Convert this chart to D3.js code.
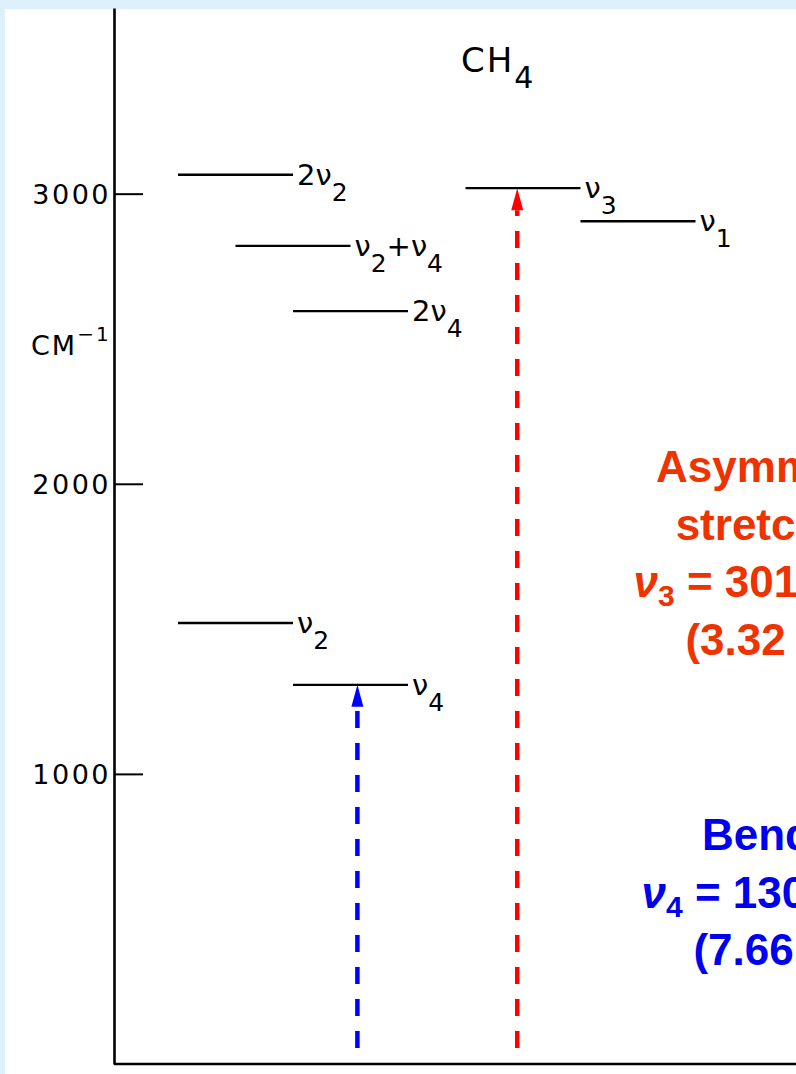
<!DOCTYPE html>
<html>
<head>
<meta charset="utf-8">
<script src="https://cdn.jsdelivr.net/npm/d3@7"></script>
<style>
  html, body { margin: 0; padding: 0; background: #def0fc; }
  svg { display: block; }
</style>
</head>
<body>
<div id="chart"></div>
<script>
// CH4 vibrational levels (cm-1), "_n" marks a subscript
var LEVELS      = ["2ν_2", "ν_2+ν_4", "2ν_4", "ν_3", "ν_1", "ν_2", "ν_4"];
var WAVENUMBERS = [3065, 2820, 2595, 3019, 2905, 1520, 1307];
var SLOTS       = [0, 1, 2, 5, 7, 0, 2];   // column slot of each level

var Y_TICKS = [1000, 2000, 3000];

// excitation arrows
var ARROW_TARGETS = ["ν_4", "ν_3"];
var ARROW_SLOTS   = [3.12, 5.9];
var ARROW_FROM    = [55, 55];
var ARROW_COLORS  = ["#0000ff", "#ff0000"];

// annotations
var RED_LINES  = ["Asymmetric", "stretching", "ν_3 = 3019 cm^-1", "(3.32 μm)"];
var BLUE_LINES = ["Bending", "ν_4 = 1306 cm^-1", "(7.66 μm)"];

var W = 796, H = 1074;

var svg = d3.select("#chart").append("svg")
    .attr("width", W)
    .attr("height", H);

svg.append("rect").attr("width", W).attr("height", H).attr("fill", "#def0fc");
svg.append("rect").attr("x", 5).attr("y", 9).attr("width", W - 5).attr("height", H - 9).attr("fill", "#ffffff");

var y = d3.scaleLinear().domain([0, 3640]).range([1064, 8]);
var x = d3.scaleLinear().domain([0, 10]).range([178, 753]);

var axisFont = "'DejaVu Sans', sans-serif";

// left axis, ticks pointing inwards
var yAxis = svg.append("g")
    .attr("transform", "translate(114,0)")
    .call(d3.axisLeft(y).tickValues(Y_TICKS).tickFormat(d3.format("d"))
      .tickSize(-29).tickSizeOuter(0).tickPadding(3));
yAxis.select(".domain").attr("stroke", "#000").attr("stroke-width", 2.6);
yAxis.selectAll(".tick line").attr("stroke", "#000").attr("stroke-width", 2);
yAxis.selectAll(".tick text")
    .attr("font-family", axisFont)
    .attr("font-size", 27)
    .attr("letter-spacing", 2.5)
    .attr("fill", "#000")
    .attr("dy", "0.36em");

// bottom baseline
svg.append("line")
    .attr("x1", 114).attr("x2", W)
    .attr("y1", y(0)).attr("y2", y(0))
    .attr("stroke", "#000").attr("stroke-width", 2.6);

// unit label
var unit = svg.append("text")
    .attr("x", 31).attr("y", 355)
    .attr("font-family", axisFont)
    .attr("font-size", 27)
    .attr("letter-spacing", 2);
unit.append("tspan").text("CM");
unit.append("tspan").attr("font-size", 20).attr("dy", -14).text("−1");

// molecule title
var title = svg.append("text")
    .attr("x", 461).attr("y", 72)
    .attr("font-family", axisFont)
    .attr("font-size", 34)
    .attr("letter-spacing", 2);
title.append("tspan").text("CH");
title.append("tspan").attr("font-size", 30).attr("dy", 16).text("4");

// helper: write "a_2b" style label into a text element
function writeParts(textSel, label, subSize, shift) {
  var parts = label.split(/_(\d)/);
  var down = false;
  parts.forEach(function(p, i) {
    if (p === "") return;
    var isSub = i % 2 === 1;
    var t = textSel.append("tspan").text(p);
    if (isSub && !down) { t.attr("dy", shift); down = true; }
    else if (!isSub && down) { t.attr("dy", -shift); down = false; }
    if (isSub) t.attr("font-size", subSize);
  });
}

var levels = LEVELS.map(function(name, i) {
  return { name: name, value: WAVENUMBERS[i], slot: SLOTS[i] };
});

// level lines
svg.selectAll(".level")
  .data(levels)
  .enter()
  .append("line")
    .attr("class", "level")
    .attr("x1", function(d) { return x(d.slot); })
    .attr("x2", function(d) { return x(d.slot + 2); })
    .attr("y1", function(d) { return y(d.value); })
    .attr("y2", function(d) { return y(d.value); })
    .attr("stroke", "#000")
    .attr("stroke-width", 2.4);

// level labels
svg.selectAll(".level-label")
  .data(levels)
  .enter()
  .append("text")
    .attr("class", "level-label")
    .attr("x", function(d) { return x(d.slot + 2) + 4; })
    .attr("y", function(d) { return y(d.value) + 10; })
    .attr("font-family", axisFont)
    .attr("font-size", 29)
    .each(function(d) { writeParts(d3.select(this), d.name, 25, 16); });

// dashed arrows
var arrows = ARROW_TARGETS.map(function(t, i) {
  return { to: WAVENUMBERS[LEVELS.indexOf(t)], from: ARROW_FROM[i], slot: ARROW_SLOTS[i], color: ARROW_COLORS[i] };
});
var headLen = 22, headW = 6;
svg.selectAll(".arrow")
  .data(arrows)
  .enter()
  .append("line")
    .attr("class", "arrow")
    .attr("x1", function(d) { return x(d.slot); })
    .attr("x2", function(d) { return x(d.slot); })
    .attr("y1", function(d) { return y(d.from); })
    .attr("y2", function(d) { return y(d.to) + headLen; })
    .attr("stroke", function(d) { return d.color; })
    .attr("stroke-width", 4.5)
    .attr("stroke-dasharray", "17,15");
svg.selectAll(".arrow-head")
  .data(arrows)
  .enter()
  .append("path")
    .attr("class", "arrow-head")
    .attr("d", function(d) {
      var cx = x(d.slot), ty = y(d.to);
      return "M" + cx + "," + ty + "L" + (cx + headW) + "," + (ty + headLen) + "L" + (cx - headW) + "," + (ty + headLen) + "Z";
    })
    .attr("fill", function(d) { return d.color; });

// annotation blocks
function writeBlock(lines, cx, y0, color) {
  var g = svg.append("g");
  lines.forEach(function(line, i) {
    var t = g.append("text")
      .attr("x", cx)
      .attr("y", y0 + i * 57.5)
      .attr("text-anchor", "middle")
      .attr("font-family", "'Liberation Sans', Arial, sans-serif")
      .attr("font-weight", "bold")
      .attr("font-size", 44)
      .attr("fill", color);
    var m = line.match(/^ν_(\d)(.*?)\^(-1)$/);
    if (m) {
      t.append("tspan").attr("font-style", "italic").text("ν");
      t.append("tspan").attr("font-size", 30).attr("dy", 9).text(m[1]);
      t.append("tspan").attr("dy", -9).text(m[2]);
      t.append("tspan").attr("font-size", 28).attr("dy", -18).text("−1");
    } else {
      t.text(line);
    }
  });
}
writeBlock(RED_LINES, 782, 482, "#ee3300");
writeBlock(BLUE_LINES, 790, 850, "#0000ee");
</script>
</body>
</html>
